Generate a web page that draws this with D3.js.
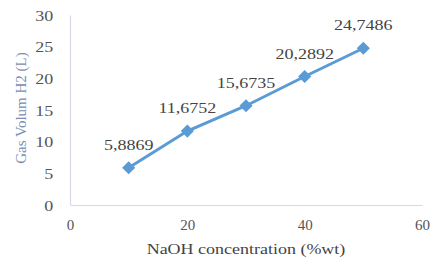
<!DOCTYPE html>
<html>
<head>
<meta charset="utf-8">
<script src="https://cdn.jsdelivr.net/npm/d3@7"></script>
<style>
  body { margin: 0; background: #fff; }
</style>
</head>
<body>
<div id="chart-container"></div>
<script>
let naoh = [10, 20, 30, 40, 50];
let gasVolume = [5.8869, 11.6752, 15.6735, 20.2892, 24.7486];
let valueLabels = ["5,8869", "11,6752", "15,6735", "20,2892", "24,7486"];
let xTicks = [0, 20, 40, 60];
let yTicks = [0, 5, 10, 15, 20, 25, 30];

chart = {
  "width": 431, "height": 264,
  "margin": {"top": 15, "bottom": 59, "left": 70, "right": 9},
  "stretch": 1.2,
  "font": "'Times New Roman', 'Liberation Serif', 'DejaVu Serif', serif",
}

let svg = d3.select("#chart-container").append("svg")
  .attr("width", chart.width)
  .attr("height", chart.height)
  .attr("font-family", chart.font);

let x = d3.scaleLinear().domain([0, 60])
  .range([chart.margin.left, chart.width - chart.margin.right]);
let y = d3.scaleLinear().domain([0, 30])
  .range([chart.height - chart.margin.bottom, chart.margin.top]);

// text looks horizontally stretched in the source image
function stretched(sel, px, py){
  sel.attr("transform", "translate(" + px + "," + py + ") scale(" + chart.stretch + ",1)");
}

// axes, no ticks, just the pale lines
let yAxis = svg.append("g")
  .attr("transform", "translate(" + chart.margin.left + ",0)")
  .call(d3.axisLeft(y).tickValues(yTicks).tickSize(0).tickPadding(14));
let xAxis = svg.append("g")
  .attr("transform", "translate(0," + y(0) + ")")
  .call(d3.axisBottom(x).tickValues(xTicks).tickSize(0).tickPadding(14));

[yAxis, xAxis].forEach(function(a){
  a.attr("font-family", chart.font).attr("font-size", 15);
  a.select(".domain").attr("stroke", "#d6dbe3").attr("stroke-width", 1.2);
  a.selectAll("text").attr("fill", "#555");
});
yAxis.selectAll(".tick text").attr("transform", "scale(" + chart.stretch + ",1)").attr("dy", "0.35em");

// axis titles
svg.append("text")
  .attr("text-anchor", "middle")
  .attr("fill", "#444")
  .attr("font-size", 15)
  .text("NaOH concentration (%wt)")
  .call(stretched, (x(0) + x(60)) / 2, 254);

svg.append("text")
  .attr("text-anchor", "middle")
  .attr("fill", "#7b8db0")
  .attr("font-size", 15)
  .text("Gas Volum H2 (L)")
  .attr("transform", "translate(26," + (y(15) - 2) + ") rotate(-90)");

// series line
let line = d3.line()
  .x((d, i) => x(naoh[i]))
  .y(d => y(d));

svg.append("path")
  .datum(gasVolume)
  .attr("d", line)
  .attr("fill", "none")
  .attr("stroke", "#5b9bd5")
  .attr("stroke-width", 3);

svg.selectAll(".marker")
  .data(gasVolume)
  .enter()
  .append("path")
  .attr("class", "marker")
  .attr("d", d3.symbol(d3.symbolDiamond2, 110))
  .attr("transform", (d, i) => "translate(" + x(naoh[i]) + "," + y(d) + ")")
  .attr("fill", "#5b9bd5");

svg.selectAll(".value-label")
  .data(gasVolume)
  .enter()
  .append("text")
  .attr("class", "value-label")
  .attr("text-anchor", "middle")
  .attr("fill", "#444")
  .attr("font-size", 15)
  .text((d, i) => valueLabels[i])
  .each(function(d, i){
    d3.select(this).call(stretched, x(naoh[i]), y(d) - 18);
  });
</script>
</body>
</html>
